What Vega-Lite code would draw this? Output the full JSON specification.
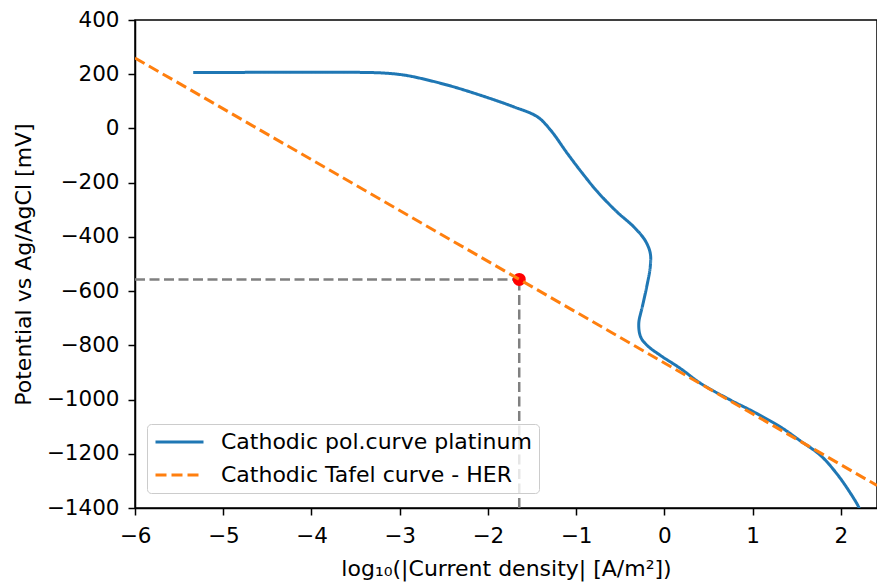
{
  "$schema": "https://vega.github.io/schema/vega-lite/v6.json",
  "autosize": "none",
  "width": 742,
  "height": 488,
  "padding": {"left": 135, "top": 20, "right": 0, "bottom": 77},
  "background": "white",
  "config": {
    "font": "DejaVu Sans",
    "view": {"stroke": "black", "strokeWidth": 1.5},
    "axis": {
      "grid": false,
      "domainColor": "black",
      "domainWidth": 1.5,
      "tickColor": "black",
      "tickWidth": 1.5,
      "tickSize": 7,
      "labelFont": "DejaVu Sans",
      "labelFontSize": 21.5,
      "labelColor": "black",
      "labelFlush": false,
      "labelOverlap": false,
      "format": "d",
      "titleFont": "DejaVu Sans",
      "titleFontSize": 22,
      "titleFontWeight": "normal",
      "titleColor": "black"
    },
    "legend": {
      "orient": "none",
      "legendX": 12,
      "legendY": 404,
      "padding": 7,
      "fillColor": "rgba(255,255,255,0.8)",
      "strokeColor": "#cccccc",
      "cornerRadius": 4,
      "labelFont": "DejaVu Sans",
      "labelFontSize": 22,
      "labelColor": "black",
      "labelOffset": 16,
      "symbolType": "stroke",
      "symbolSize": 2304,
      "symbolStrokeWidth": 3,
      "clipHeight": 22,
      "rowPadding": 11,
      "labelLimit": 500
    }
  },
  "datasets": {
    "polcurve": [
      {"i": 1, "logj": -5.34, "E": 206, "series": "Cathodic pol.curve platinum"},
      {"i": 2, "logj": -4.6, "E": 207, "series": "Cathodic pol.curve platinum"},
      {"i": 3, "logj": -4.0, "E": 207.5, "series": "Cathodic pol.curve platinum"},
      {"i": 4, "logj": -3.5, "E": 207, "series": "Cathodic pol.curve platinum"},
      {"i": 5, "logj": -3.22, "E": 205, "series": "Cathodic pol.curve platinum"},
      {"i": 6, "logj": -3.05, "E": 201, "series": "Cathodic pol.curve platinum"},
      {"i": 7, "logj": -2.88, "E": 193, "series": "Cathodic pol.curve platinum"},
      {"i": 8, "logj": -2.46, "E": 160, "series": "Cathodic pol.curve platinum"},
      {"i": 9, "logj": -2.09, "E": 123, "series": "Cathodic pol.curve platinum"},
      {"i": 10, "logj": -1.71, "E": 80, "series": "Cathodic pol.curve platinum"},
      {"i": 11, "logj": -1.44, "E": 43, "series": "Cathodic pol.curve platinum"},
      {"i": 12, "logj": -1.29, "E": -6, "series": "Cathodic pol.curve platinum"},
      {"i": 13, "logj": -1.10, "E": -92, "series": "Cathodic pol.curve platinum"},
      {"i": 14, "logj": -0.93, "E": -165, "series": "Cathodic pol.curve platinum"},
      {"i": 15, "logj": -0.76, "E": -233, "series": "Cathodic pol.curve platinum"},
      {"i": 16, "logj": -0.54, "E": -307, "series": "Cathodic pol.curve platinum"},
      {"i": 17, "logj": -0.35, "E": -362, "series": "Cathodic pol.curve platinum"},
      {"i": 18, "logj": -0.22, "E": -412, "series": "Cathodic pol.curve platinum"},
      {"i": 19, "logj": -0.16, "E": -460, "series": "Cathodic pol.curve platinum"},
      {"i": 20, "logj": -0.16, "E": -510, "series": "Cathodic pol.curve platinum"},
      {"i": 21, "logj": -0.20, "E": -584, "series": "Cathodic pol.curve platinum"},
      {"i": 22, "logj": -0.25, "E": -658, "series": "Cathodic pol.curve platinum"},
      {"i": 23, "logj": -0.29, "E": -719, "series": "Cathodic pol.curve platinum"},
      {"i": 24, "logj": -0.27, "E": -768, "series": "Cathodic pol.curve platinum"},
      {"i": 25, "logj": -0.20, "E": -799, "series": "Cathodic pol.curve platinum"},
      {"i": 26, "logj": -0.05, "E": -836, "series": "Cathodic pol.curve platinum"},
      {"i": 27, "logj": 0.18, "E": -885, "series": "Cathodic pol.curve platinum"},
      {"i": 28, "logj": 0.41, "E": -940, "series": "Cathodic pol.curve platinum"},
      {"i": 29, "logj": 0.75, "E": -1002, "series": "Cathodic pol.curve platinum"},
      {"i": 30, "logj": 1.01, "E": -1045, "series": "Cathodic pol.curve platinum"},
      {"i": 31, "logj": 1.32, "E": -1102, "series": "Cathodic pol.curve platinum"},
      {"i": 32, "logj": 1.54, "E": -1152, "series": "Cathodic pol.curve platinum"},
      {"i": 33, "logj": 1.77, "E": -1206, "series": "Cathodic pol.curve platinum"},
      {"i": 34, "logj": 1.96, "E": -1276, "series": "Cathodic pol.curve platinum"},
      {"i": 35, "logj": 2.11, "E": -1346, "series": "Cathodic pol.curve platinum"},
      {"i": 36, "logj": 2.20, "E": -1395, "series": "Cathodic pol.curve platinum"},
      {"i": 37, "logj": 2.23, "E": -1420, "series": "Cathodic pol.curve platinum"}
    ],
    "tafel": [
      {"i": 1, "logj": -6, "E": 260, "series": "Cathodic Tafel curve - HER"},
      {"i": 2, "logj": 2.41, "E": -1317, "series": "Cathodic Tafel curve - HER"}
    ],
    "guides": [
      {"x1": -6, "x2": -1.645, "y1": -557, "y2": -557},
      {"x1": -1.645, "x2": -1.645, "y1": -1400, "y2": -557}
    ],
    "marker": [
      {"logj": -1.645, "E": -557}
    ]
  },
  "layer": [
    {
      "data": {"name": "guides"},
      "mark": {"type": "rule", "color": "#808080", "strokeWidth": 2.5, "strokeDash": [10, 4.5]},
      "encoding": {
        "x": {"field": "x1", "type": "quantitative", "scale": {"domain": [-6, 2.41], "nice": false, "zero": false}},
        "x2": {"field": "x2"},
        "y": {"field": "y1", "type": "quantitative", "scale": {"domain": [-1400, 400], "nice": false, "zero": false}},
        "y2": {"field": "y2"}
      }
    },
    {
      "data": {"name": "marker"},
      "mark": {"type": "circle", "color": "red", "opacity": 1, "size": 170},
      "encoding": {
        "x": {"field": "logj", "type": "quantitative"},
        "y": {"field": "E", "type": "quantitative"}
      }
    },
    {
      "data": {"name": "polcurve"},
      "mark": {"type": "line", "strokeWidth": 3, "interpolate": "catmull-rom", "clip": true},
      "encoding": {
        "x": {"field": "logj", "type": "quantitative"},
        "y": {"field": "E", "type": "quantitative"},
        "order": {"field": "i", "type": "quantitative"},
        "color": {"field": "series", "type": "nominal", "title": null,
          "scale": {"domain": ["Cathodic pol.curve platinum", "Cathodic Tafel curve - HER"], "range": ["#1f77b4", "#ff7f0e"]}},
        "strokeDash": {"field": "series", "type": "nominal", "title": null,
          "scale": {"domain": ["Cathodic pol.curve platinum", "Cathodic Tafel curve - HER"], "range": [[1, 0], [11, 5]]}}
      }
    },
    {
      "data": {"name": "tafel"},
      "mark": {"type": "line", "strokeWidth": 3, "clip": true},
      "encoding": {
        "x": {"field": "logj", "type": "quantitative",
          "axis": {"title": "log₁₀(|Current density| [A/m²])", "values": [-6, -5, -4, -3, -2, -1, 0, 1, 2], "labelPadding": 10, "titlePadding": 12}},
        "y": {"field": "E", "type": "quantitative",
          "axis": {"title": "Potential vs Ag/AgCl [mV]", "values": [-1400, -1200, -1000, -800, -600, -400, -200, 0, 200, 400], "labelPadding": 9, "titlePadding": 11}},
        "order": {"field": "i", "type": "quantitative"},
        "color": {"field": "series", "type": "nominal"},
        "strokeDash": {"field": "series", "type": "nominal"}
      }
    }
  ]
}
